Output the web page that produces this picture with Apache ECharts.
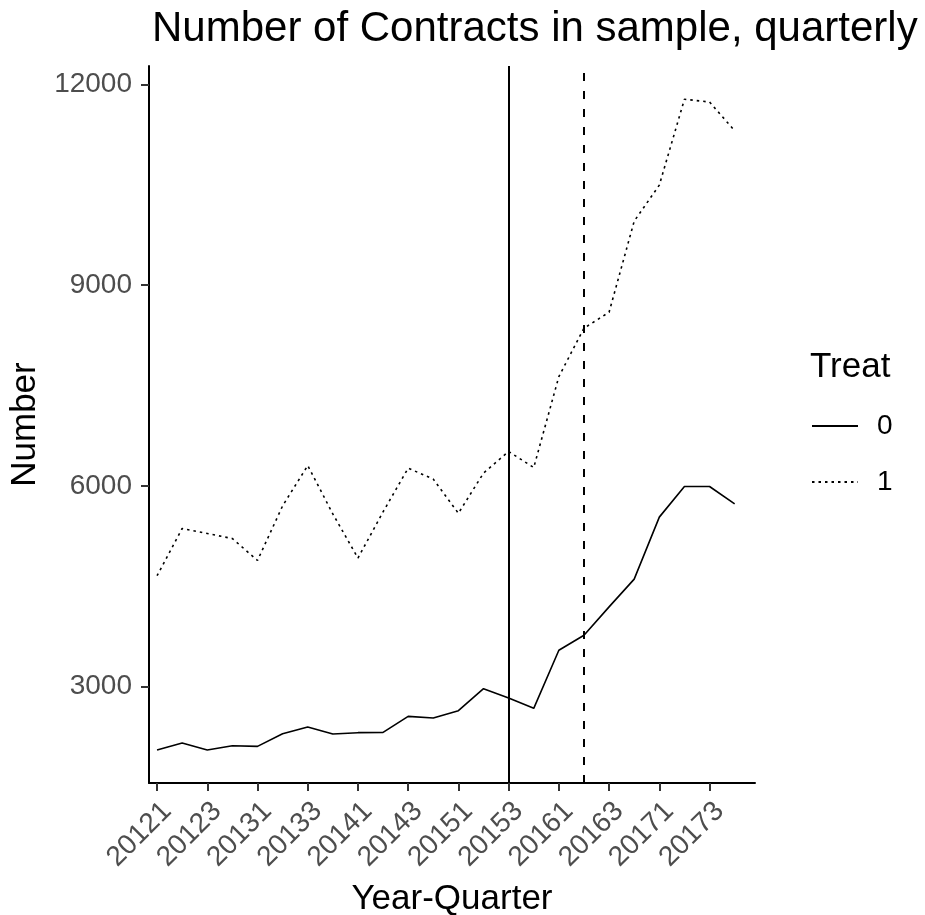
<!DOCTYPE html>
<html>
<head>
<meta charset="utf-8">
<script src="https://cdn.jsdelivr.net/npm/echarts@6/dist/echarts.min.js"></script>
<style>
html,body{margin:0;padding:0;background:#fff;}
#chart{width:925px;height:915px;}
</style>
</head>
<body>
<div id="chart"></div>
<script>
var quarters = ['20121','20122','20123','20124','20131','20132','20133','20134',
                '20141','20142','20143','20144','20151','20152','20153','20154',
                '20161','20162','20163','20164','20171','20172','20173','20174'];
var treat0 = [2052,2157,2052,2116,2106,2296,2396,2291,2311,2315,2554,2530,
              2639,2968,2829,2675,3542,3767,4191,4606,5532,5990,5990,5731];
var treat1 = [4656,5362,5287,5212,4884,5700,6303,5580,4920,5610,6264,6100,
              5590,6190,6513,6273,7632,8355,8594,9955,10493,11776,11735,11306];
var xTickIdx = [0,2,4,6,8,10,12,14,16,18,20,22];
var yTicks = [3000,6000,9000,12000];
var vlineSolid = 14;  // 20153
var vlineDashed = 17; // 20162

function pairs(arr){ return arr.map(function(v,i){ return [i, v]; }); }

var chart = echarts.init(document.getElementById('chart'), null, {renderer:'canvas'});
var FONT = 'Liberation Sans, Arial, sans-serif';
chart.setOption({
  backgroundColor:'#ffffff',
  animation:false,
  textStyle:{fontFamily:FONT},
  title:[{
    text:'Number of Contracts in sample, quarterly',
    left:147, top:3,
    textStyle:{fontFamily:FONT, fontSize:42, fontWeight:'normal', color:'#000'}
  },{
    text:'Treat',
    left:805, top:345,
    textStyle:{fontFamily:FONT, fontSize:35, fontWeight:'normal', color:'#000'}
  }],
  legend:{
    orient:'vertical',
    left:806, top:407,
    itemWidth:46, itemHeight:14, itemGap:28,
    itemStyle:{opacity:0},
    textStyle:{fontFamily:FONT, fontSize:28, color:'#000', padding:[0,0,0,14]},
    data:['0','1']
  },
  grid:{left:149, right:170, top:66, bottom:132, containLabel:false, outerBoundsMode:'none'},
  xAxis:{
    type:'value',
    min:-0.32, max:23.81,
    name:'Year-Quarter',
    nameLocation:'middle', nameGap:99,
    nameTextStyle:{fontFamily:FONT, fontSize:35, color:'#000'},
    axisLine:{show:true, onZero:false, lineStyle:{color:'#000', width:2}},
    axisTick:{show:true, length:8, customValues:xTickIdx, lineStyle:{color:'#333', width:2}},
    axisLabel:{show:true, customValues:xTickIdx, rotate:45, margin:14,
      align:'right', verticalAlign:'top',
      fontFamily:FONT, fontSize:28, color:'#4d4d4d',
      formatter:function(v){ return quarters[Math.round(v)]; }},
    splitLine:{show:false}
  },
  yAxis:{
    type:'value',
    min:1559, max:12273,
    name:'Number',
    nameLocation:'middle', nameGap:91,
    nameTextStyle:{fontFamily:FONT, fontSize:35, color:'#000'},
    axisLine:{show:true, onZero:false, lineStyle:{color:'#000', width:2}},
    axisTick:{show:true, length:8, customValues:yTicks, lineStyle:{color:'#333', width:2}},
    axisLabel:{show:true, customValues:yTicks, margin:17,
      fontFamily:FONT, fontSize:28, color:'#4d4d4d',
      formatter:function(v){ return String(v); }},
    splitLine:{show:false}
  },
  series:[{
    name:'0', type:'line', data:pairs(treat0),
    symbol:'none', showSymbol:false,
    lineStyle:{color:'#000', width:1.6, type:'solid'},
    itemStyle:{color:'#000'},
    markLine:{
      silent:true, symbol:['none','none'], label:{show:false},
      data:[
        {xAxis:vlineSolid, lineStyle:{color:'#000', width:2, type:'solid'}},
        {xAxis:vlineDashed, lineStyle:{color:'#000', width:2, type:[8,10]}}
      ]
    }
  },{
    name:'1', type:'line', data:pairs(treat1),
    symbol:'none', showSymbol:false,
    lineStyle:{color:'#000', width:1.6, type:[2.5,4]},
    itemStyle:{color:'#000'}
  }]
});
</script>
</body>
</html>
